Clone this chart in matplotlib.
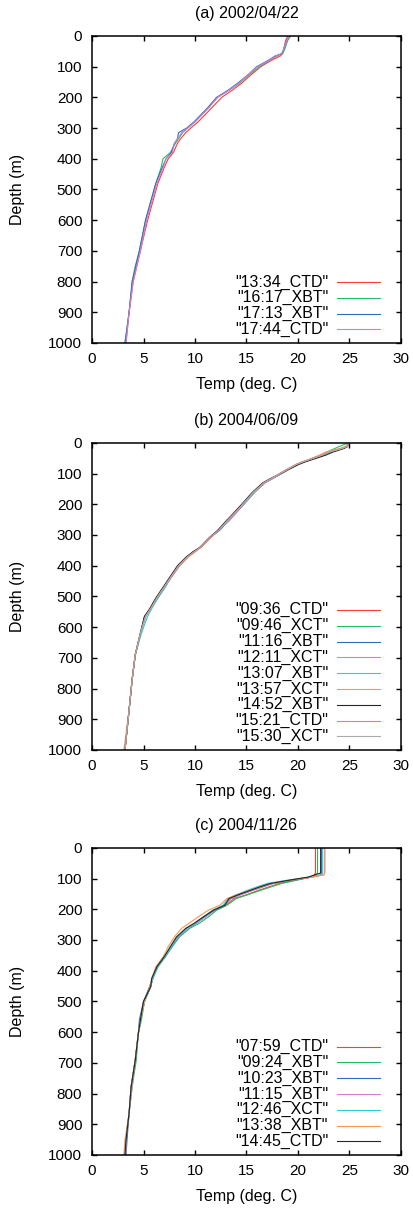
import matplotlib
matplotlib.use("Agg")
import matplotlib.pyplot as plt

plt.rcParams['font.family'] = ['Liberation Sans', 'DejaVu Sans']
plt.rcParams['font.size'] = 11.5

# ---- (a) 2002/04/22 ----
depth_a = [0, 15, 45, 58, 65, 80, 100, 125, 155, 175, 200, 235, 280, 300, 315,
           335, 350, 380, 400, 430, 480, 540, 600, 650, 700, 750, 800, 850, 900, 950, 1000]
temp_a_1334 = [19.0, 18.8, 18.6, 18.5, 18.3, 17.4, 16.4, 15.5, 14.5, 13.7, 12.6, 11.6, 10.3, 9.6, 9.1,
               8.6, 8.3, 7.9, 7.4, 7.0, 6.4, 5.9, 5.4, 5.05, 4.7, 4.35, 4.0, 3.8, 3.6, 3.45, 3.3]
temp_a_1617 = [19.3, 19.0, 18.7, 18.5, 18.0, 17.2, 16.3, 15.3, 14.3, 13.4, 12.2, 11.3, 10.0, 9.3, 8.8,
               8.4, 8.1, 7.6, 6.9, 6.7, 6.2, 5.7, 5.2, 4.9, 4.6, 4.2, 3.9, 3.75, 3.6, 3.4, 3.2]
temp_a_1713 = [19.2, 18.9, 18.6, 18.4, 17.8, 17.1, 16.0, 15.2, 14.1, 13.3, 12.1, 11.2, 9.9, 9.2, 8.4,
               8.3, 8.0, 7.7, 7.2, 6.8, 6.2, 5.7, 5.2, 4.9, 4.6, 4.25, 3.9, 3.75, 3.6, 3.4, 3.2]
temp_a_1744 = [19.2, 18.9, 18.6, 18.4, 17.9, 17.2, 16.1, 15.2, 14.2, 13.4, 12.2, 11.3, 10.0, 9.3, 8.7,
               8.3, 8.0, 7.8, 7.2, 6.9, 6.3, 5.8, 5.3, 5.0, 4.7, 4.35, 4.0, 3.8, 3.6, 3.45, 3.3]
labels_a = ['13:34_CTD', '16:17_XBT', '17:13_XBT', '17:44_CTD']

# ---- (b) 2004/06/09 ----
depth_b = [0, 12, 18, 30, 40, 50, 62, 70, 85, 100, 115, 130, 160, 190, 220, 255,
           285, 310, 340, 355, 370, 400, 430, 470, 505, 540, 565, 620, 690, 770, 870, 1000]
temp_b_0936 = [24.9, 24.8, 24.2, 23.0, 22.2, 21.4, 20.5, 19.9, 19.0, 18.3, 17.5, 16.6, 15.7, 14.9, 14.0, 13.1,
               12.3, 11.4, 10.5, 9.9, 9.3, 8.4, 7.8, 7.0, 6.3, 5.7, 5.2, 4.7, 4.2, 3.9, 3.6, 3.2]
temp_b_0946 = [24.9, 24.0, 23.6, 22.8, 22.2, 21.5, 20.6, 20.0, 19.2, 18.4, 17.6, 16.8, 15.8, 15.0, 14.2, 13.2,
               12.3, 11.4, 10.6, 9.9, 9.3, 8.4, 7.8, 7.0, 6.3, 5.7, 5.1, 4.7, 4.2, 3.9, 3.6, 3.2]
temp_b_1116 = [24.9, 24.8, 24.4, 23.1, 22.4, 21.6, 20.6, 19.9, 19.1, 18.4, 17.6, 16.8, 15.8, 15.0, 14.2, 13.2,
               12.4, 11.4, 10.5, 9.8, 9.3, 8.5, 7.8, 7.1, 6.4, 5.7, 5.1, 4.7, 4.2, 3.9, 3.6, 3.2]
temp_b_1211 = [24.9, 24.7, 24.2, 23.0, 22.3, 21.5, 20.5, 19.9, 19.1, 18.3, 17.6, 16.8, 15.8, 15.0, 14.2, 13.3,
               12.2, 11.3, 10.5, 9.9, 9.3, 8.5, 7.9, 7.0, 6.3, 5.7, 5.2, 4.7, 4.2, 3.9, 3.6, 3.2]
temp_b_1307 = [24.9, 24.8, 24.3, 23.1, 22.4, 21.5, 20.5, 19.9, 19.1, 18.3, 17.5, 16.7, 15.8, 15.0, 14.1, 13.2,
               12.3, 11.4, 10.5, 9.9, 9.3, 8.5, 7.8, 7.1, 6.4, 5.8, 5.4, 4.8, 4.2, 3.9, 3.6, 3.2]
temp_b_1357 = [24.9, 24.6, 24.1, 22.7, 22.1, 21.4, 20.5, 19.9, 19.1, 18.3, 17.5, 16.7, 15.7, 14.9, 14.1, 13.1,
               12.3, 11.4, 10.5, 10.0, 9.4, 8.4, 7.8, 7.0, 6.3, 5.7, 5.2, 4.7, 4.2, 3.9, 3.6, 3.1]
temp_b_1452 = [24.9, 24.8, 24.5, 23.4, 22.7, 21.8, 20.7, 20.1, 19.2, 18.3, 17.4, 16.6, 15.6, 14.8, 14.0, 13.0,
               12.2, 11.4, 10.5, 9.8, 9.2, 8.3, 7.7, 6.9, 6.2, 5.6, 5.1, 4.7, 4.2, 3.9, 3.6, 3.2]
temp_b_1521 = [24.9, 24.8, 24.3, 23.0, 22.3, 21.5, 20.4, 19.8, 19.0, 18.2, 17.5, 16.7, 15.7, 14.9, 14.1, 13.1,
               12.3, 11.5, 10.6, 10.0, 9.4, 8.5, 7.8, 7.0, 6.3, 5.7, 5.2, 4.7, 4.2, 3.9, 3.6, 3.2]
temp_b_1530 = [24.9, 24.7, 24.3, 23.0, 22.3, 21.5, 20.5, 19.9, 19.1, 18.3, 17.5, 16.7, 15.7, 14.9, 14.1, 13.1,
               12.3, 11.4, 10.5, 9.9, 9.3, 8.4, 7.8, 7.0, 6.3, 5.7, 5.2, 4.7, 4.2, 3.9, 3.6, 3.2]
labels_b = ['09:36_CTD', '09:46_XCT', '11:16_XBT', '12:11_XCT', '13:07_XBT',
            '13:57_XCT', '14:52_XBT', '15:21_CTD', '15:30_XCT']

# ---- (c) 2004/11/26 ----
depth_c = [0, 82, 88, 95, 105, 116, 127, 138, 154, 165, 187, 203, 225, 246, 262,
           290, 322, 355, 387, 425, 452, 500, 560, 604, 691, 778, 864, 951, 1000]
temp_c_0759 = [21.7, 21.7, 21.6, 21.3, 19.8, 18.2, 17.2, 16.2, 14.9, 13.8, 13.0, 11.9, 10.9, 10.0, 9.2,
               8.3, 7.7, 7.1, 6.4, 5.9, 5.6, 5.1, 4.7, 4.5, 4.2, 3.8, 3.6, 3.3, 3.2]
temp_c_0924 = [21.9, 21.9, 21.7, 21.2, 19.9, 18.4, 17.4, 16.4, 15.0, 14.0, 13.1, 12.1, 11.3, 10.4, 9.5,
               8.5, 7.8, 7.1, 6.4, 5.9, 5.7, 5.1, 4.8, 4.5, 4.3, 3.9, 3.6, 3.3, 3.3]
temp_c_1023 = [22.3, 22.3, 22.2, 21.4, 19.5, 17.6, 16.6, 15.6, 14.3, 13.5, 12.8, 11.9, 11.0, 10.1, 9.3,
               8.4, 7.7, 7.1, 6.3, 5.9, 5.6, 5.0, 4.6, 4.5, 4.2, 3.8, 3.6, 3.4, 3.3]
temp_c_1115 = [22.6, 22.6, 22.5, 21.4, 19.4, 17.5, 16.5, 15.6, 14.3, 13.5, 12.9, 11.9, 11.0, 10.1, 9.3,
               8.4, 7.7, 7.1, 6.3, 5.9, 5.7, 5.1, 4.7, 4.5, 4.2, 3.9, 3.6, 3.3, 3.3]
temp_c_1246 = [22.4, 22.4, 22.2, 21.2, 19.0, 17.0, 16.0, 15.1, 13.9, 13.2, 12.7, 11.7, 10.8, 10.0, 9.2,
               8.3, 7.7, 7.1, 6.4, 5.9, 5.7, 5.1, 4.7, 4.5, 4.2, 3.8, 3.6, 3.3, 3.2]
temp_c_1338 = [22.6, 22.6, 22.5, 21.3, 19.3, 17.4, 16.3, 15.3, 14.0, 13.1, 12.4, 11.3, 10.3, 9.4, 8.7,
               8.0, 7.4, 6.9, 6.2, 5.8, 5.6, 5.1, 4.7, 4.5, 4.2, 3.8, 3.6, 3.2, 3.1]
temp_c_1445 = [22.2, 22.2, 21.6, 21.0, 19.2, 17.3, 16.3, 15.4, 14.1, 13.3, 12.9, 11.8, 10.8, 9.9, 9.1,
               8.2, 7.6, 7.0, 6.3, 5.8, 5.7, 5.0, 4.7, 4.5, 4.2, 3.8, 3.6, 3.3, 3.2]
labels_c = ['07:59_CTD', '09:24_XBT', '10:23_XBT', '11:15_XBT', '12:46_XCT', '13:38_XBT', '14:45_CTD']

colors = ['#ff3b3b', '#1fbf5f', '#3468c8', '#d27fd0', '#27cfd6',
          '#ff944d', '#262626', '#ff7862', '#aaaaaa']

panels = [
    ('(a) 2002/04/22', depth_a, [temp_a_1334, temp_a_1617, temp_a_1713, temp_a_1744], labels_a, 0.7163),
    ('(b) 2004/06/09', depth_b, [temp_b_0936, temp_b_0946, temp_b_1116, temp_b_1211, temp_b_1307,
                                 temp_b_1357, temp_b_1452, temp_b_1521, temp_b_1530], labels_b, 0.3797),
    ('(c) 2004/11/26', depth_c, [temp_c_0759, temp_c_0924, temp_c_1023, temp_c_1115, temp_c_1246,
                                 temp_c_1338, temp_c_1445], labels_c, 0.0447),
]

fig = plt.figure(figsize=(4.13, 12.09), dpi=100)

for title, depth, temps, labels, bottom in panels:
    ax = fig.add_axes([0.2228, bottom, 0.748, 0.254])
    for i, t in enumerate(temps):
        ax.plot(t, depth, color=colors[i], lw=0.8)

    # gnuplot-style key: right aligned text, line sample on the right
    n = len(labels)
    for i, lab in enumerate(labels):
        y = 0.044 + (n - 1 - i) * 0.0515
        ax.text(0.764, y, '"%s"' % lab, ha='right', va='center', transform=ax.transAxes)
        ax.plot([0.793, 0.932], [y, y], color=colors[i], lw=0.8, transform=ax.transAxes)

    ax.set_xlim(0, 30)
    ax.set_ylim(1000, 0)
    ax.set_xticks(range(0, 31, 5))
    ax.set_yticks(range(0, 1001, 100))
    ax.tick_params(direction='in', top=True, right=True, length=3.6, width=1.0, labelsize=11)
    ax.tick_params(axis='x', pad=6.5)
    ax.tick_params(axis='y', pad=7)
    for s in ax.spines.values():
        s.set_linewidth(1.1)
    ax.set_title(title, pad=13, fontsize=11.5)
    ax.set_xlabel('Temp (deg. C)')
    ax.set_ylabel('Depth (m)')
    ax.xaxis.set_label_coords(0.5, -0.112)
    ax.yaxis.set_label_coords(-0.217, 0.5)

fig.savefig('out.png', dpi=100)
